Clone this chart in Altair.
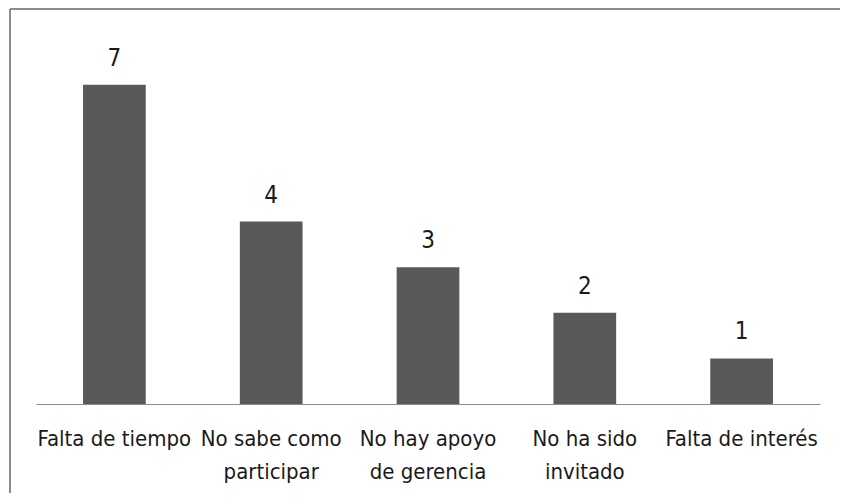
import altair as alt
import pandas as pd

categories = ["Falta de tiempo", "No sabe como|participar", "No hay apoyo|de gerencia",
              "No ha sido|invitado", "Falta de interés"]
values = [7, 4, 3, 2, 1]

df = pd.DataFrame({"cat": categories, "val": values})
FONT = "DejaVu Sans Condensed, sans-serif"

base = alt.Chart(df)

bars = base.mark_bar(color="#595959").encode(
    x=alt.X("cat:N", sort=categories, title=None,
            scale=alt.Scale(paddingInner=0.6, paddingOuter=0.3),
            axis=alt.Axis(labelAngle=0, ticks=False, domainColor="#8c8c8c", domainWidth=1.2,
                          labelFont=FONT, labelFontSize=22, labelColor="#1a1a1a",
                          labelPadding=24, labelLineHeight=33,
                          labelExpr="split(datum.label, '|')")),
    y=alt.Y("val:Q", scale=alt.Scale(domain=[0, 8]), axis=None),
)

labels = base.mark_text(baseline="bottom", dy=-14, font=FONT, fontSize=24, color="#1a1a1a").encode(
    x=alt.X("cat:N", sort=categories),
    y=alt.Y("val:Q"),
    text=alt.Text("val:Q"),
)

frame_df = pd.DataFrame({"a": [0]})
left_edge = alt.Chart(frame_df).mark_rule(color="#8c8c8c", strokeWidth=2).encode(
    x=alt.value(-26), y=alt.value(-30), y2=alt.value(470))
top_edge = alt.Chart(frame_df).mark_rule(color="#8c8c8c", strokeWidth=2).encode(
    x=alt.value(-26), x2=alt.value(830), y=alt.value(-30))

chart = alt.layer(bars, labels, left_edge, top_edge).properties(
    width=784, height=365,
    background="white",
    autosize=alt.AutoSizeParams(type="none"),
    padding={"left": 28, "top": 31, "right": 20, "bottom": 89},
).configure_view(strokeWidth=0, stroke="transparent")

chart.save("out.html", embed_options={"renderer": "svg", "actions": False})
